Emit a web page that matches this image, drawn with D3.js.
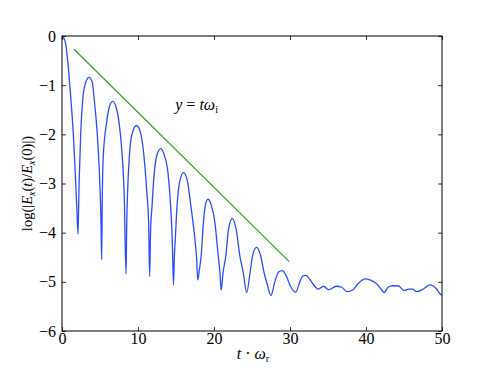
<!DOCTYPE html>
<html lang="en">
<head>
  <meta charset="UTF-8">
  <title>Field decay</title>
  <script src="https://d3js.org/d3.v7.min.js"></script>
  <style>
    body { margin: 0; background: #ffffff; }
  </style>
</head>
<body>
  <div id="chart"></div>
  <script>
    // blue curve (t, log value)
    const curveT = [
      0, 0.4, 0.83, 1.18, 1.49, 1.75, 1.95, 2.1,
      2.25, 2.46, 2.72, 3.1, 3.55, 4.0, 4.25, 4.64, 4.95, 5.12, 5.22,
      5.29, 5.43, 5.88, 6.22, 6.67, 7.12, 7.5, 7.93, 8.2, 8.42,
      8.52, 8.64, 8.86, 9.2, 9.82, 10.3, 10.79, 11.14, 11.4, 11.53,
      11.65, 11.84, 12.14, 12.5, 13.0, 13.45, 13.95, 14.3, 14.51, 14.67,
      14.78, 14.9, 15.13, 15.5, 16.0, 16.5, 16.97, 17.5, 17.7, 17.86,
      18.08, 18.3, 18.6, 18.85, 19.2, 19.6, 20.13, 20.57, 20.78, 20.94,
      21.2, 21.54, 21.9, 22.4, 22.9, 23.42, 23.86, 24.3,
      24.74, 25.1, 25.6, 26.1, 26.6, 27.0, 27.5,
      28.0, 28.5, 29.0, 29.5, 30.1, 30.75,
      31.3, 31.7, 32.1, 32.6, 33.2, 33.7,
      34.4, 35.1, 36.1, 36.8, 37.5, 38.3, 39.0, 39.9, 40.5, 41.4, 42.0, 42.4,
      42.9, 43.5, 44.25, 45.0, 45.6, 46.1, 46.7, 47.5, 48.4, 49.2, 49.8, 50
    ];
    const curveY = [
      0, -0.1, -0.63, -1.31, -1.99, -2.8, -3.5, -4.03,
      -3.0, -1.99, -1.31, -0.95, -0.84, -0.95, -1.31, -1.99, -2.9, -3.7, -4.55,
      -3.43, -2.45, -1.75, -1.45, -1.33, -1.45, -1.75, -2.45, -3.3, -4.84,
      -3.8, -3.13, -2.45, -2.0, -1.82, -1.95, -2.45, -3.13, -3.81, -4.89,
      -4.0, -3.47, -2.79, -2.42, -2.29, -2.42, -2.79, -3.47, -4.15, -5.06,
      -4.5, -4.15, -3.47, -2.95, -2.78, -2.95, -3.47, -4.15, -4.5, -4.96,
      -4.75, -4.49, -3.81, -3.45, -3.32, -3.42, -3.81, -4.49, -4.8, -5.17,
      -4.8, -4.49, -3.95, -3.71, -3.92, -4.49, -4.82, -5.22,
      -4.82, -4.45, -4.30, -4.45, -4.82, -5.05, -5.28,
      -5.0, -4.8, -4.77, -4.88, -5.1, -5.21,
      -5.0, -4.88, -4.87, -4.95, -5.08, -5.15,
      -5.09, -5.16, -5.09, -5.11, -5.2, -5.16, -5.03, -4.94, -4.96, -5.04, -5.15, -5.22,
      -5.11, -5.08, -5.08, -5.18, -5.15, -5.15, -5.2, -5.15, -5.06, -5.13, -5.25, -5.27
    ];

    // green guide line y = t*omega_i
    const guideT = [1.58, 29.9];
    const guideY = [-0.27, -4.59];

    const xTicks = [0, 10, 20, 30, 40, 50];
    const yTicks = [0, -1, -2, -3, -4, -5, -6];

    const width = 491, height = 368;
    const margin = { top: 36, right: 49, bottom: 37, left: 62 };
    const serif = "Liberation Serif";

    const svg = d3.select("#chart").append("svg")
      .attr("width", width).attr("height", height)
      .attr("font-family", serif);

    const x = d3.scaleLinear().domain([0, 50]).range([margin.left, width - margin.right]);
    const y = d3.scaleLinear().domain([-6, 0]).range([height - margin.bottom, margin.top]);

    const fmt = d => d < 0 ? "\u2212" + Math.abs(d) : String(d);

    // ticks pointing inward on all four sides
    const tickLen = 4;
    svg.append("g").attr("transform", `translate(0,${y(-6)})`)
      .call(d3.axisBottom(x).tickValues(xTicks).tickSize(-tickLen).tickPadding(2).tickFormat(fmt));
    svg.append("g").attr("transform", `translate(0,${y(0)})`)
      .call(d3.axisTop(x).tickValues(xTicks).tickSize(-tickLen).tickFormat(""));
    svg.append("g").attr("transform", `translate(${x(0)},0)`)
      .call(d3.axisLeft(y).tickValues(yTicks).tickSize(-tickLen).tickPadding(6).tickFormat(fmt));
    svg.append("g").attr("transform", `translate(${x(50)},0)`)
      .call(d3.axisRight(y).tickValues(yTicks).tickSize(-tickLen).tickFormat(""));

    svg.selectAll(".domain").remove();
    svg.selectAll(".tick line").attr("stroke", "#000").attr("stroke-width", 0.8);

    const pts = curveT.map((t, i) => [t, curveY[i]]);
    const line = d3.line().x(d => x(d[0])).y(d => y(d[1])).curve(d3.curveMonotoneX);

    svg.append("path").datum(pts)
      .attr("d", line)
      .attr("fill", "none")
      .attr("stroke", "#2b4cff")
      .attr("stroke-width", 1.3);

    svg.append("path").datum(guideT.map((t, i) => [t, guideY[i]]))
      .attr("d", d3.line().x(d => x(d[0])).y(d => y(d[1])))
      .attr("fill", "none")
      .attr("stroke", "#33a11f")
      .attr("stroke-width", 1.2);

    // frame
    svg.append("rect")
      .attr("x", x(0)).attr("y", y(0))
      .attr("width", x(50) - x(0)).attr("height", y(-6) - y(0))
      .attr("fill", "none").attr("stroke", "#000").attr("stroke-width", 1);

    // annotation
    const ann = svg.append("text").attr("x", x(14.9)).attr("y", 110).attr("font-size", 16);
    ann.append("tspan").attr("font-style", "italic").text("y");
    ann.append("tspan").text(" = ");
    ann.append("tspan").attr("font-style", "italic").text("t\u03c9");
    ann.append("tspan").attr("dy", 3).attr("font-size", 10).text("i");

    // x label
    const xl = svg.append("text").attr("x", 253).attr("y", 359)
      .attr("text-anchor", "middle").attr("font-size", 16);
    xl.append("tspan").attr("font-style", "italic").text("t");
    xl.append("tspan").text(" \u00b7 ");
    xl.append("tspan").attr("font-style", "italic").text("\u03c9");
    xl.append("tspan").attr("dy", 3).attr("font-size", 10).text("r");

    // y label
    const yl = svg.append("text")
      .attr("transform", `translate(32,${(y(0) + y(-6)) / 2}) rotate(-90)`)
      .attr("text-anchor", "middle").attr("font-size", 14.5);
    yl.append("tspan").text("log(|");
    yl.append("tspan").attr("font-style", "italic").text("E");
    yl.append("tspan").attr("dy", 3).attr("font-style", "italic").attr("font-size", 10).text("x");
    yl.append("tspan").attr("dy", -3).text("(");
    yl.append("tspan").attr("font-style", "italic").text("t");
    yl.append("tspan").text(")/");
    yl.append("tspan").attr("font-style", "italic").text("E");
    yl.append("tspan").attr("dy", 3).attr("font-style", "italic").attr("font-size", 10).text("x");
    yl.append("tspan").attr("dy", -3).text("(0)|)");

    // every text gets the serif face and size set on itself
    svg.selectAll(".tick text").attr("font-family", serif).attr("font-size", 16).attr("fill", "#000");
    svg.selectAll("text").attr("font-family", serif);
  </script>
</body>
</html>
